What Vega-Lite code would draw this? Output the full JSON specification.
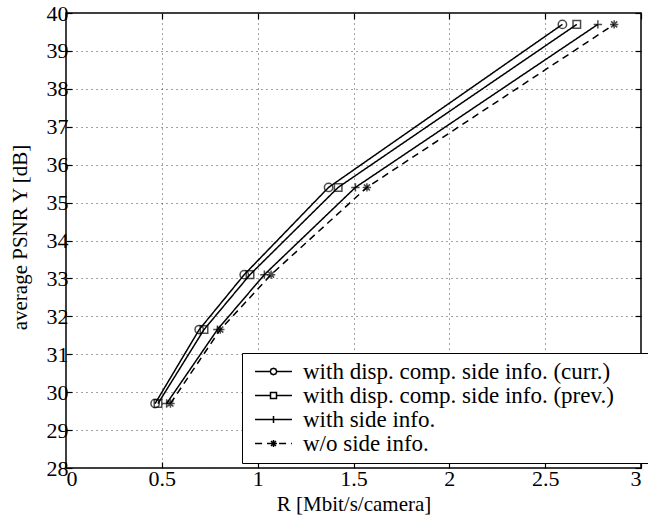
{
  "$schema": "https://vega.github.io/schema/vega-lite/v6.json",
  "width": 575,
  "height": 455,
  "autosize": {"type": "none"},
  "padding": {"left": 66, "top": 13, "right": 7, "bottom": 50},
  "background": "white",
  "config": {
    "font": "Liberation Serif",
    "view": {"stroke": "black", "strokeWidth": 1.5},
    "axis": {
      "labelFont": "Liberation Serif", "titleFont": "Liberation Serif",
      "labelFontSize": 22, "titleFontSize": 21, "titleFontWeight": "normal",
      "labelColor": "black", "titleColor": "black",
      "domain": false, "tickColor": "black", "tickSize": -6, "tickWidth": 1.2,
      "gridColor": "#444", "gridDash": [1, 4], "gridWidth": 1
    },
    "point": {"filled": false, "color": "black", "strokeWidth": 1.5, "size": 70}
  },
  "data": {"values": [
    {"series": "with disp. comp. side info. (curr.)", "R": 0.465, "psnr": 29.7},
    {"series": "with disp. comp. side info. (curr.)", "R": 0.695, "psnr": 31.65},
    {"series": "with disp. comp. side info. (curr.)", "R": 0.93, "psnr": 33.1},
    {"series": "with disp. comp. side info. (curr.)", "R": 1.37, "psnr": 35.4},
    {"series": "with disp. comp. side info. (curr.)", "R": 2.59, "psnr": 39.7},
    {"series": "with disp. comp. side info. (prev.)", "R": 0.48, "psnr": 29.7},
    {"series": "with disp. comp. side info. (prev.)", "R": 0.72, "psnr": 31.65},
    {"series": "with disp. comp. side info. (prev.)", "R": 0.96, "psnr": 33.1},
    {"series": "with disp. comp. side info. (prev.)", "R": 1.42, "psnr": 35.4},
    {"series": "with disp. comp. side info. (prev.)", "R": 2.665, "psnr": 39.7},
    {"series": "with side info.", "R": 0.525, "psnr": 29.7},
    {"series": "with side info.", "R": 0.79, "psnr": 31.65},
    {"series": "with side info.", "R": 1.035, "psnr": 33.1},
    {"series": "with side info.", "R": 1.51, "psnr": 35.4},
    {"series": "with side info.", "R": 2.775, "psnr": 39.7},
    {"series": "w/o side info.", "R": 0.545, "psnr": 29.7},
    {"series": "w/o side info.", "R": 0.805, "psnr": 31.65},
    {"series": "w/o side info.", "R": 1.07, "psnr": 33.1},
    {"series": "w/o side info.", "R": 1.57, "psnr": 35.4},
    {"series": "w/o side info.", "R": 2.86, "psnr": 39.7}
  ]},
  "layer": [
    {
      "mark": {"type": "line", "color": "black", "strokeWidth": 1.5},
      "encoding": {
        "x": {"field": "R", "type": "quantitative", "scale": {"domain": [0, 3], "nice": false},
              "axis": {"values": [0, 0.5, 1, 1.5, 2, 2.5, 3], "title": "R [Mbit/s/camera]", "labelPadding": 6, "titleY": 25, "format": "~g"}},
        "y": {"field": "psnr", "type": "quantitative", "scale": {"domain": [28, 40], "nice": false, "zero": false},
              "axis": {"values": [28,29,30,31,32,33,34,35,36,37,38,39,40], "title": "average PSNR Y [dB]", "labelPadding": 4, "titleX": -36, "titleY": 224, "titleBaseline": "bottom", "titleFontSize": 21}},
        "order": {"field": "psnr", "type": "quantitative"},
        "strokeDash": {"field": "series", "type": "nominal",
          "scale": {"domain": ["with disp. comp. side info. (curr.)", "with disp. comp. side info. (prev.)", "with side info.", "w/o side info."],
                    "range": [[1, 0], [1, 0], [1, 0], [7, 5]]},
          "legend": {
            "orient": "none", "legendX": 176, "legendY": 340, "title": null,
            "fillColor": "white", "strokeColor": "black", "padding": 7,
            "labelFont": "Liberation Serif", "labelFontSize": 23, "labelColor": "black", "labelLimit": 600,
            "labelExpr": "datum.label + '\u2800\u2800'",
            "symbolSize": 85, "symbolStrokeWidth": 1.5, "symbolStrokeColor": "black",
            "symbolOffset": 13, "labelOffset": 18, "rowPadding": 0,
            "encode": {"symbols": {"update": {
              "shape": {"signal": "datum.value === 'with disp. comp. side info. (curr.)' ? 'M-4,0L-0.7,0M0.7,0L4,0M-0.7,0L-0.5,-0.5L0,-0.7L0.5,-0.5L0.7,0L0.5,0.5L0,0.7L-0.5,0.5Z' : datum.value === 'with disp. comp. side info. (prev.)' ? 'M-4,0L-0.65,0M0.65,0L4,0M-0.65,-0.65L0.65,-0.65L0.65,0.65L-0.65,0.65Z' : datum.value === 'with side info.' ? 'M-4,0L4,0M0,-0.75L0,0.75' : 'M-4,0L4,0M-0.75,0L0.75,0M0,-0.75L0,0.75M-0.55,-0.55L0.55,0.55M-0.55,0.55L0.55,-0.55'"},
              "fill": {"value": "transparent"},
              "stroke": {"value": "black"}
            }}}
          }}
      }
    },
    {
      "transform": [{"filter": "datum.series === 'with disp. comp. side info. (curr.)'"}],
      "mark": {"type": "point", "shape": "circle"},
      "encoding": {"x": {"field": "R", "type": "quantitative", "axis": null}, "y": {"field": "psnr", "type": "quantitative", "axis": null}}
    },
    {
      "transform": [{"filter": "datum.series === 'with disp. comp. side info. (prev.)'"}],
      "mark": {"type": "point", "shape": "M-0.9,-0.9L0.9,-0.9L0.9,0.9L-0.9,0.9Z"},
      "encoding": {"x": {"field": "R", "type": "quantitative", "axis": null}, "y": {"field": "psnr", "type": "quantitative", "axis": null}}
    },
    {
      "transform": [{"filter": "datum.series === 'with side info.'"}],
      "mark": {"type": "point", "shape": "M-1,0L1,0M0,-1L0,1"},
      "encoding": {"x": {"field": "R", "type": "quantitative", "axis": null}, "y": {"field": "psnr", "type": "quantitative", "axis": null}}
    },
    {
      "transform": [{"filter": "datum.series === 'w/o side info.'"}],
      "mark": {"type": "point", "shape": "M-1,0L1,0M0,-1L0,1M-0.72,-0.72L0.72,0.72M-0.72,0.72L0.72,-0.72"},
      "encoding": {"x": {"field": "R", "type": "quantitative", "axis": null}, "y": {"field": "psnr", "type": "quantitative", "axis": null}}
    },
    {
      "mark": {"type": "rule", "opacity": 0},
      "encoding": {
        "x": {"field": "R", "type": "quantitative",
              "axis": {"orient": "top", "labels": false, "title": null, "grid": false, "values": [0, 0.5, 1, 1.5, 2, 2.5, 3]}},
        "y": {"field": "psnr", "type": "quantitative",
              "axis": {"orient": "right", "labels": false, "title": null, "grid": false, "values": [28,29,30,31,32,33,34,35,36,37,38,39,40]}}
      }
    }
  ],
  "resolve": {"axis": {"x": "independent", "y": "independent"}}
}
